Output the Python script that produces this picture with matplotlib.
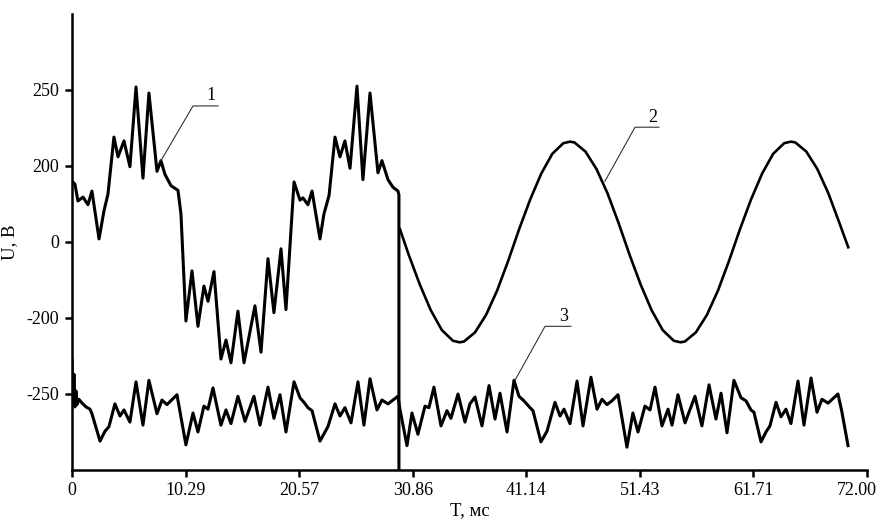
import matplotlib
matplotlib.use("Agg")
from matplotlib import pyplot as plt
from matplotlib.transforms import ScaledTranslation

plt.rcParams['font.family'] = ['Liberation Serif', 'DejaVu Serif']

# time axis, ms
x_ticks = [0, 10.29, 20.57, 30.86, 41.14, 51.43, 61.71, 72.00]
x_labels = ['0', '10.29', '20.57', '30.86', '41.14', '51.43', '61.71', '72.00']
# y axis is drawn in grid units, labels as printed on the original
y_ticks = [2, 1, 0, -1, -2]
y_labels = ['250', '200', '0', '-200', '-250']

# curve 1 - distorted voltage before switching
t1 = [0.0, 0.27, 0.54, 1.00, 1.45, 1.81, 2.45, 2.90, 3.26, 3.80, 4.17, 4.71, 5.25, 5.80,
      6.43, 6.97, 7.70, 8.06, 8.42, 8.97, 9.60, 9.87, 10.32, 10.87, 11.41, 11.95, 12.32,
      12.86, 13.49, 13.95, 14.40, 15.03, 15.58, 16.57, 17.12, 17.75, 18.29, 18.93, 19.38,
      20.11, 20.65, 20.92, 21.37, 21.74, 22.46, 22.82, 23.28, 23.82, 24.27, 24.72, 25.18,
      25.81, 26.35, 26.99, 27.71, 28.07, 28.62, 29.07, 29.52, 29.61, 29.61]
u1 = [0.80, 0.76, 0.54, 0.59, 0.49, 0.67, 0.04, 0.41, 0.63, 1.38, 1.12, 1.33, 0.99, 2.04,
      0.84, 1.96, 0.93, 1.07, 0.89, 0.74, 0.68, 0.37, -1.04, -0.38, -1.11, -0.58, -0.78,
      -0.39, -1.54, -1.29, -1.59, -0.91, -1.59, -0.84, -1.45, -0.22, -0.93, -0.09, -0.89,
      0.79, 0.55, 0.58, 0.49, 0.67, 0.04, 0.37, 0.61, 1.38, 1.12, 1.33, 0.97,
      2.05, 0.82, 1.96, 0.91, 1.07, 0.82, 0.72, 0.67, 0.62, -3.0]

# curve 2 - sinusoidal voltage after switching
t2 = [29.7, 30.5, 31.5, 32.5, 33.5, 34.5, 35.1, 35.5, 36.5, 37.5, 38.5, 39.5, 40.5, 41.5,
      42.5, 43.5, 44.5, 45.1, 45.5, 46.5, 47.5, 48.5, 49.5, 50.5, 51.5, 52.5, 53.5, 54.5,
      55.1, 55.5, 56.5, 57.5, 58.5, 59.5, 60.5, 61.5, 62.5, 63.5, 64.5, 65.1, 65.5, 66.5,
      67.5, 68.5, 69.5, 70.3]
u2 = [0.17, -0.17, -0.56, -0.90, -1.16, -1.30, -1.32, -1.31, -1.19, -0.96, -0.64, -0.25,
      0.17, 0.56, 0.90, 1.16, 1.30, 1.32, 1.31, 1.19, 0.96, 0.64, 0.25, -0.17, -0.56, -0.90,
      -1.16, -1.30, -1.32, -1.31, -1.19, -0.96, -0.64, -0.25, 0.17, 0.56, 0.90, 1.16, 1.30,
      1.32, 1.31, 1.19, 0.96, 0.64, 0.25, -0.07]

# curve 3
t3 = [0.0, 0.09, 0.18, 0.27, 0.36, 0.45, 0.63, 0.91, 1.27, 1.63, 1.81, 2.54, 2.99, 3.35,
      3.89, 4.35, 4.71, 5.25, 5.80, 6.43, 6.97, 7.70, 8.15, 8.60, 9.51, 10.32, 10.96, 11.41,
      11.95, 12.32, 12.77, 13.49, 13.95, 14.40, 15.03, 15.67, 16.48, 17.03, 17.75, 18.29,
      18.84, 19.38, 20.11, 20.65, 21.01, 21.37, 21.74, 22.46, 23.18, 23.82, 24.27, 24.72,
      25.27, 25.90, 26.44, 26.99, 27.62, 28.07, 28.62, 29.52, 29.70, 30.34, 30.79, 31.33,
      31.97, 32.33, 32.78, 33.42, 33.96, 34.32, 34.96, 35.59, 36.04, 36.50, 37.13, 37.77,
      38.31, 38.76, 39.40, 40.03, 40.48, 40.93, 41.48, 41.75, 42.47, 43.02, 43.74, 44.20,
      44.56, 45.10, 45.74, 46.28, 47.00, 47.55, 48.00, 48.45, 48.90, 49.45, 50.26, 50.80,
      51.26, 51.89, 52.35, 52.80, 53.43, 53.98, 54.34, 54.88, 55.52, 56.42, 57.05, 57.69,
      58.32, 58.78, 59.32, 59.95, 60.59, 61.04, 61.49, 61.76, 62.40, 62.85, 63.21, 63.76,
      64.21, 64.66, 65.11, 65.75, 66.29, 66.93, 67.47, 67.92, 68.47, 69.37, 69.73, 70.28]
u3 = [-1.54, -2.13, -1.74, -2.17, -1.96, -2.14, -2.07, -2.12, -2.17, -2.20, -2.26, -2.62,
      -2.49, -2.43, -2.13, -2.29, -2.21, -2.37, -1.84, -2.41, -1.82, -2.26, -2.08, -2.14,
      -2.01, -2.67, -2.25, -2.50, -2.16, -2.20, -1.92, -2.41, -2.21, -2.39, -2.03, -2.36,
      -2.03, -2.41, -1.91, -2.32, -2.01, -2.50, -1.84, -2.05, -2.11, -2.18, -2.22, -2.62,
      -2.43, -2.13, -2.29, -2.18, -2.38, -1.84, -2.41, -1.80, -2.21, -2.08, -2.13, -2.03,
      -2.20, -2.68, -2.25, -2.53, -2.16, -2.18, -1.91, -2.42, -2.22, -2.32, -2.00, -2.37,
      -2.13, -2.04, -2.42, -1.89, -2.33, -1.99, -2.50, -1.82, -2.03, -2.09, -2.18, -2.22,
      -2.63, -2.49, -2.11, -2.29, -2.20, -2.39, -1.83, -2.42, -1.78, -2.20, -2.07, -2.14,
      -2.09, -2.01, -2.70, -2.25, -2.50, -2.16, -2.21, -1.91, -2.42, -2.20, -2.41, -2.01,
      -2.38, -2.03, -2.42, -1.88, -2.33, -1.99, -2.51, -1.82, -2.05, -2.09, -2.21, -2.24,
      -2.63, -2.50, -2.42, -2.11, -2.30, -2.20, -2.39, -1.83, -2.41, -1.79, -2.24, -2.07,
      -2.12, -2.00, -2.24, -2.68]

fig = plt.figure(figsize=(8.83, 5.25), dpi=100)
ax = fig.add_axes([0.0815, 0.1048, 0.9004, 0.8686])

ax.plot(t1, u1, color='black', linewidth=2.2, solid_joinstyle='round')
ax.plot(t2, u2, color='black', linewidth=1.9, solid_joinstyle='round')
ax.plot(t3, u3, color='black', linewidth=2.2, solid_joinstyle='round')

# numbered leader lines
for num, x0, y0, x1, y1, x2 in [('1', 8.06, 1.07, 10.96, 1.79, 13.22),
                                 ('2', 48.27, 0.80, 50.99, 1.51, 53.16),
                                 ('3', 40.12, -1.82, 42.84, -1.11, 45.19)]:
    ax.plot([x0, x1, x2], [y0, y1, y1], color='#333333', linewidth=0.8)
    ax.text((x1 + x2) / 2 + 0.5, y1 + 0.02, num, ha='center', va='bottom', fontsize=13)

ax.set_xlim(0, 72)
ax.set_ylim(-3, 3)
ax.set_xticks(x_ticks)
ax.set_xticklabels(x_labels)
ax.set_yticks(y_ticks)
ax.set_yticklabels(y_labels)
ax.tick_params(direction='out', length=5, width=1.8, labelsize=13, pad=4)

# last label sits a little left of its tick so it stays inside the picture
last = ax.get_xticklabels()[-1]
last.set_transform(last.get_transform() + ScaledTranslation(-0.1, 0, fig.dpi_scale_trans))

for side in ['top', 'right']:
    ax.spines[side].set_visible(False)
for side in ['left', 'bottom']:
    ax.spines[side].set_linewidth(1.8)

ax.set_xlabel('T, мс', fontsize=13.5, labelpad=2)
ax.set_ylabel('U, В', fontsize=13.5, labelpad=6)

fig.savefig('out.png', dpi=100)
